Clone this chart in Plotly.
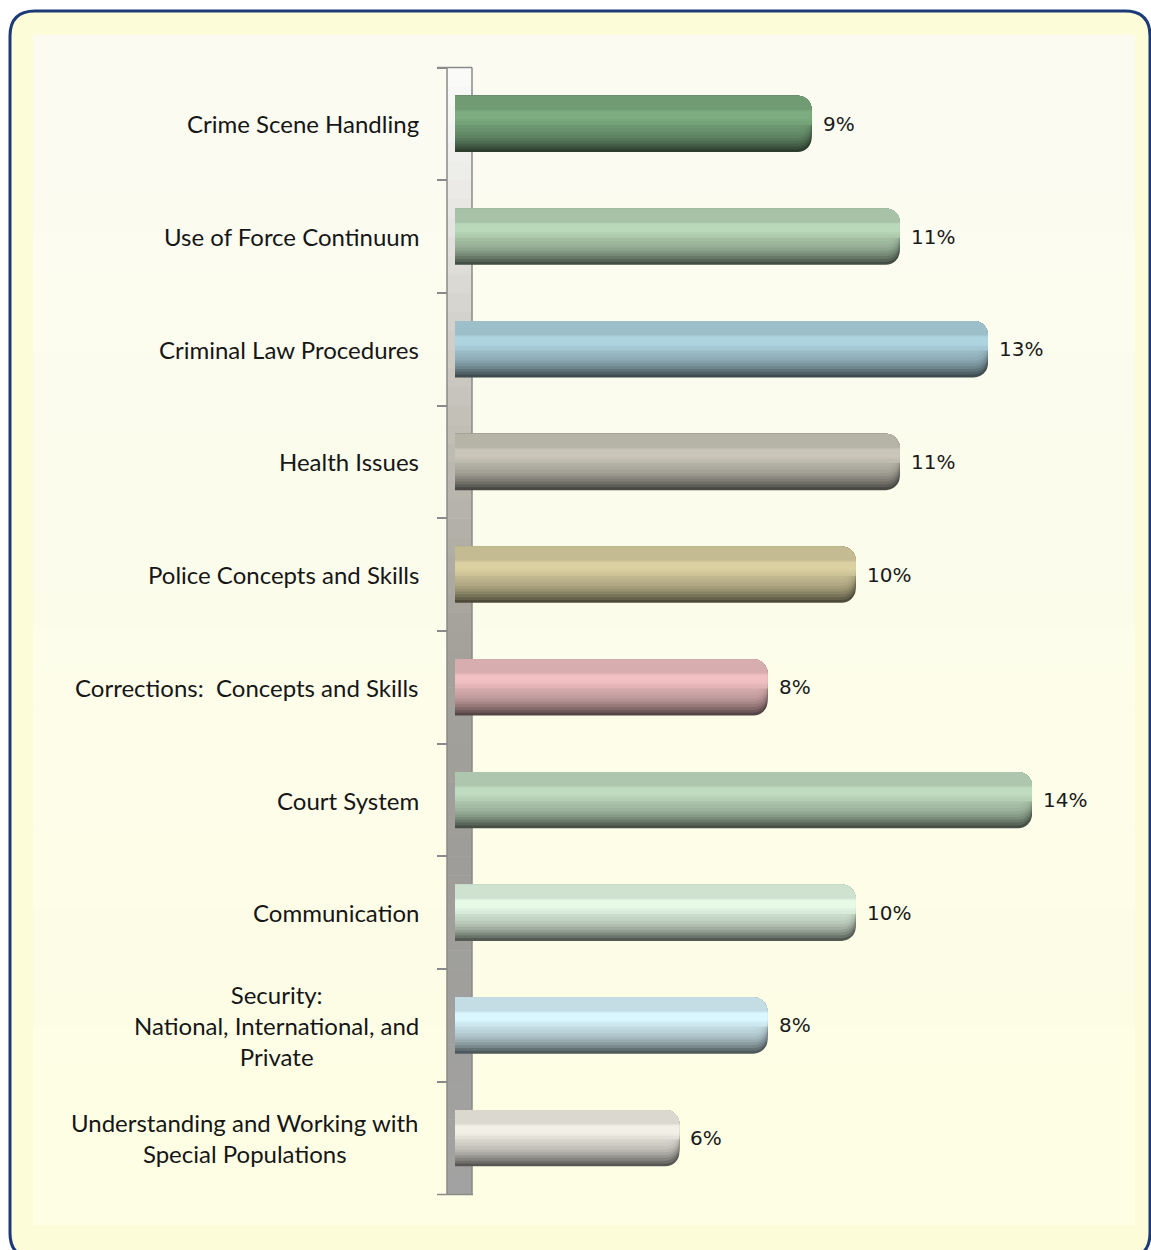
import plotly.graph_objects as go

W, H = 1151, 1250

# ---------------- data ----------------
categories = [
    "Crime Scene Handling",
    "Use of Force Continuum",
    "Criminal Law Procedures",
    "Health Issues",
    "Police Concepts and Skills",
    "Corrections:\u00a0 Concepts and Skills",
    "Court System",
    "Communication",
    "Security:<br>National, International, and<br>Private",
    "Understanding and Working with<br>Special Populations",
]
values = [8.9, 11.1, 13.3, 11.1, 10.0, 7.8, 14.4, 10.0, 7.8, 5.6]
value_labels = [f"{v:.0f}%" for v in values]

# highlight colour of each cylinder (shaded darker toward the bottom)
bar_colors = [
    (124, 172, 128),
    (186, 216, 186),
    (174, 212, 224),
    (202, 199, 186),
    (218, 208, 162),
    (240, 192, 194),
    (192, 220, 192),
    (230, 250, 230),
    (218, 246, 254),
    (242, 240, 230),
]


def px(x):
    return x / W


def py(y):
    return 1 - y / H


def shade(rgb, f):
    return "rgb({},{},{})".format(*[max(0, min(255, int(round(c * f)))) for c in rgb])


def mix(a, b, t):
    return tuple(a[i] + (b[i] - a[i]) * t for i in range(3))


# ---------------- geometry ----------------
PLOT_TOP, PLOT_BOT = 67.5, 1194.5
X0_PX = 455
PX_PER_UNIT = 40.07
XMAX = 17
BAR_W = 0.5

fig = go.Figure()

# cylinder-like shading: nested bars anchored at the top edge, plus highlight stripes
layers = [
    # (top fraction, height fraction, brightness factor, corner radius)
    (0.00, 1.00, 0.36, 14),
    (0.00, 0.95, 0.46, 14),
    (0.00, 0.90, 0.55, 14),
    (0.00, 0.85, 0.63, 14),
    (0.00, 0.80, 0.70, 14),
    (0.00, 0.75, 0.76, 14),
    (0.00, 0.70, 0.81, 14),
    (0.00, 0.64, 0.85, 14),
    (0.00, 0.58, 0.88, 14),
    (0.00, 0.52, 0.90, 14),
    (0.25, 0.27, 0.94, 0),
    (0.26, 0.20, 0.97, 0),
    (0.28, 0.14, 1.00, 0),
]
for top, hgt, f, r in layers:
    fig.add_trace(go.Bar(
        orientation="h",
        x=values,
        y=categories,
        offset=-BAR_W / 2 + top * BAR_W,
        width=hgt * BAR_W,
        marker=dict(color=[shade(c, f) for c in bar_colors], line_width=0, cornerradius=r),
        hoverinfo="skip",
        showlegend=False,
    ))

shapes = []

# rounded outer border (bottom edge runs just past the bottom of the canvas)
L, T, R, B, rad = 10, 11, 1150, 1258, 25
path = (
    f"M {px(L + rad)} {py(T)} L {px(R - rad)} {py(T)} Q {px(R)} {py(T)} {px(R)} {py(T + rad)} "
    f"L {px(R)} {py(B - rad)} Q {px(R)} {py(B)} {px(R - rad)} {py(B)} "
    f"L {px(L + rad)} {py(B)} Q {px(L)} {py(B)} {px(L)} {py(B - rad)} "
    f"L {px(L)} {py(T + rad)} Q {px(L)} {py(T)} {px(L + rad)} {py(T)} Z"
)
shapes.append(dict(type="path", path=path, xref="paper", yref="paper",
                   fillcolor="#fcfcd9", line=dict(color="#1c3a78", width=3), layer="below"))

# inner (plot area) soft gradient
n_bg = 30
top_c, bot_c = (251, 251, 242), (254, 254, 228)
y_a, y_b = 35, 1225
for i in range(n_bg):
    ya = y_a + (y_b - y_a) * i / n_bg
    yb = y_a + (y_b - y_a) * (i + 1) / n_bg + 0.5
    c = mix(top_c, bot_c, i / (n_bg - 1))
    shapes.append(dict(type="rect", xref="paper", yref="paper",
                       x0=px(33), x1=px(1135), y0=py(ya), y1=py(min(yb, y_b)),
                       fillcolor="rgb({:.0f},{:.0f},{:.0f})".format(*c), line_width=0, layer="below"))

# 3-D wall behind the category axis
stops = [(0.0, (250, 250, 248)), (0.12, (232, 231, 228)), (0.30, (196, 193, 185)),
         (0.50, (165, 162, 155)), (0.70, (158, 157, 153)), (1.0, (162, 162, 162))]


def wall_color(t):
    for (t0, c0), (t1, c1) in zip(stops[:-1], stops[1:]):
        if t <= t1:
            return mix(c0, c1, (t - t0) / (t1 - t0))
    return stops[-1][1]


n_wall = 60
for i in range(n_wall):
    ya = PLOT_TOP + (PLOT_BOT - PLOT_TOP) * i / n_wall
    yb = PLOT_TOP + (PLOT_BOT - PLOT_TOP) * (i + 1) / n_wall + 0.5
    c = wall_color(i / (n_wall - 1))
    shapes.append(dict(type="rect", xref="paper", yref="paper",
                       x0=px(447), x1=px(472), y0=py(ya), y1=py(min(yb, PLOT_BOT)),
                       fillcolor="rgb({:.0f},{:.0f},{:.0f})".format(*c), line_width=0, layer="below"))
for (xa, ya, xb, yb) in [(447, PLOT_TOP, 447, PLOT_BOT), (472, PLOT_TOP, 472, PLOT_BOT),
                         (437, PLOT_TOP, 472, PLOT_TOP), (437, PLOT_BOT, 473, PLOT_BOT)]:
    shapes.append(dict(type="line", xref="paper", yref="paper",
                       x0=px(xa), x1=px(xb), y0=py(ya), y1=py(yb),
                       line=dict(color="#8a8a8a", width=1.5), layer="below"))

annotations = []
for cat, v, lab in zip(categories, values, value_labels):
    annotations.append(dict(
        x=px(421), xref="paper", y=cat, yref="y", text=cat,
        xanchor="right", yanchor="middle", align="center", showarrow=False,
        font=dict(family="Lato", size=24, color="#161616"),
    ))
    annotations.append(dict(
        x=v, xref="x", y=cat, yref="y", text=lab,
        xanchor="left", yanchor="middle", xshift=9, showarrow=False,
        font=dict(family="DejaVu Sans", size=20, color="#1a1a1a"),
    ))

fig.update_layout(
    width=W, height=H, autosize=False,
    margin=dict(l=0, r=0, t=0, b=0, pad=0),
    paper_bgcolor="white", plot_bgcolor="rgba(0,0,0,0)",
    barmode="overlay",
    xaxis=dict(range=[0, XMAX], domain=[px(X0_PX), px(X0_PX + XMAX * PX_PER_UNIT)],
               visible=False, fixedrange=True),
    yaxis=dict(type="category", categoryorder="array", categoryarray=categories,
               range=[len(categories) - 0.5, -0.5],
               domain=[py(PLOT_BOT), py(PLOT_TOP)],
               anchor="free", position=px(447),
               showticklabels=False, ticks="outside", ticklen=10, tickwidth=1.5,
               tickcolor="#8a8a8a", tickson="boundaries",
               showgrid=False, zeroline=False, showline=False, fixedrange=True),
    shapes=shapes,
    annotations=annotations,
)

fig.write_html("out.html", config={"displayModeBar": False},
               post_script="document.body.style.margin='0';document.body.style.overflow='hidden';")
